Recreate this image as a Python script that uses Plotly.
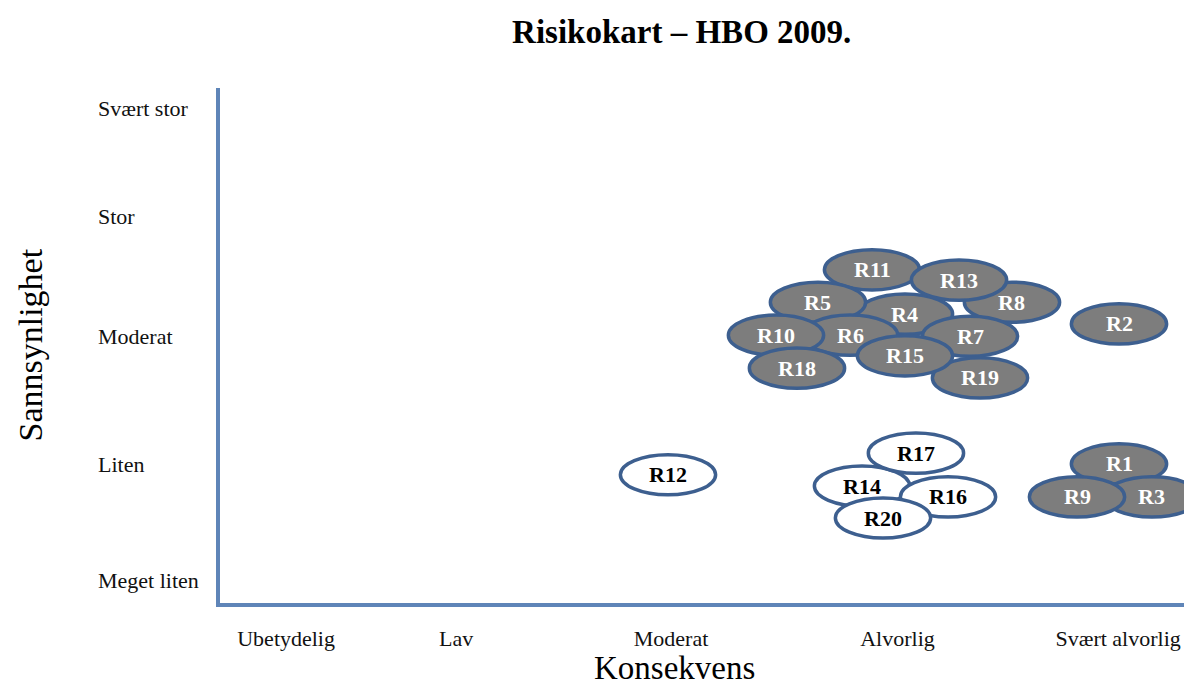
import plotly.graph_objects as go

# Axis categories
x_labels = ["Ubetydelig", "Lav", "Moderat", "Alvorlig", "Svært alvorlig"]
x_label_pos = [0.68, 2.43, 4.64, 6.97, 9.24]
y_labels = ["Svært stor", "Stor", "Moderat", "Liten", "Meget liten"]
y_label_pos = [9.61, 7.51, 5.18, 2.68, 0.43]

# Risks (drawing order bottom to top)
risk_names = ["R4", "R8", "R7", "R11", "R13", "R5", "R6", "R10", "R18", "R19", "R15", "R2",
              "R12", "R14", "R17", "R16", "R20", "R1", "R3", "R9"]
risk_x = [7.047, 8.148, 7.716, 6.708, 7.603, 6.152, 6.482, 5.720, 5.936, 7.819, 7.047, 9.249,
          4.609, 6.605, 7.16, 7.49, 6.821, 9.249, 9.588, 8.817]
risk_y = [5.61, 5.84, 5.18, 6.47, 6.27, 5.84, 5.20, 5.20, 4.56, 4.37, 4.80, 5.42,
          2.49, 2.27, 2.91, 2.06, 1.65, 2.70, 2.06, 2.06]
risk_high = [True] * 12 + [False] * 5 + [True] * 3

W_HALF = 0.49
H_HALF = 0.39
BORDER = "#3d5f8f"
FILL_HIGH = "#7d7d7d"
AXIS = "#5f85b8"
SERIF = "Liberation Serif, Times New Roman, serif"

fig = go.Figure()
fig.add_trace(go.Scatter(x=[None], y=[None], mode="markers", showlegend=False, hoverinfo="skip"))

shapes = []
annotations = []
for n, x, y, h in zip(risk_names, risk_x, risk_y, risk_high):
    shapes.append(dict(type="circle", xref="x", yref="y",
                       x0=x - W_HALF, x1=x + W_HALF, y0=y - H_HALF, y1=y + H_HALF,
                       fillcolor=FILL_HIGH if h else "white",
                       line=dict(color=BORDER, width=3.5), layer="above"))
    annotations.append(dict(x=x, y=y, xref="x", yref="y", text="<b>%s</b>" % n,
                            showarrow=False,
                            font=dict(family=SERIF, size=22, color="white" if h else "black")))

for lab, yp in zip(y_labels, y_label_pos):
    annotations.append(dict(x=0, y=yp, xref="paper", yref="y", text=lab, showarrow=False,
                            xanchor="left", xshift=-124,
                            font=dict(family=SERIF, size=22, color="#111111")))

annotations.append(dict(x=0, y=0.5, xref="paper", yref="paper", text="Sannsynlighet",
                        showarrow=False, textangle=-90, xanchor="center", xshift=-190,
                        font=dict(family=SERIF, size=34, color="black")))
annotations.append(dict(x=0.468, y=0, xref="paper", yref="paper", text="Konsekvens",
                        showarrow=False, xanchor="center", yanchor="middle", yshift=-65,
                        font=dict(family=SERIF, size=33, color="black")))

fig.update_layout(
    width=1184, height=681,
    margin=dict(l=212, r=0, t=80, b=86),
    paper_bgcolor="white", plot_bgcolor="white",
    showlegend=False,
    title=dict(text="<b>Risikokart – HBO 2009.</b>", x=0.569, xanchor="center",
               y=0.965, yanchor="middle",
               font=dict(family=SERIF, size=33, color="black")),
    xaxis=dict(range=[0, 10], showgrid=False, zeroline=False, showline=True,
               linecolor=AXIS, linewidth=3.5, tickvals=x_label_pos, ticktext=x_labels,
               ticks="outside", ticklen=13, tickcolor="rgba(0,0,0,0)",
               tickfont=dict(family=SERIF, size=22, color="#111111"),
               fixedrange=True),
    yaxis=dict(range=[0, 10], showgrid=False, zeroline=False, showline=True,
               linecolor=AXIS, linewidth=3.5, showticklabels=False, ticks="",
               fixedrange=True),
    shapes=shapes,
    annotations=annotations,
)

fig.write_html("out.html")
